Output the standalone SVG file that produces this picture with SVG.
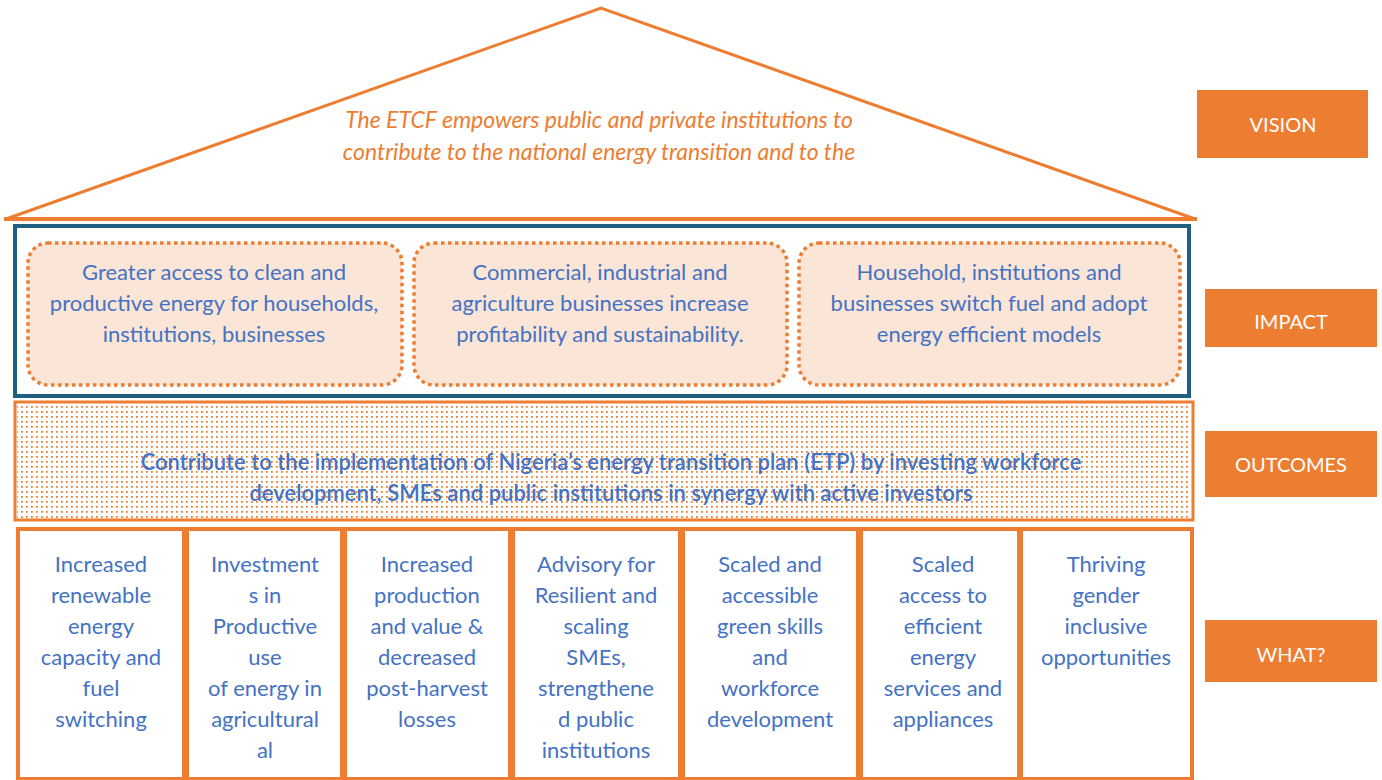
<svg xmlns="http://www.w3.org/2000/svg" width="1382" height="780" viewBox="0 0 1382 780">
<style>
.t{font-family:Lato,"Open Sans","Liberation Sans",sans-serif;font-size:22px;fill:#4472C4;text-anchor:middle}
.lbl{font-family:Lato,"Open Sans","Liberation Sans",sans-serif;font-size:20px;fill:#FFFFFF;text-anchor:middle}
.lb{fill:#ED7D31}
.imp{fill:#FBE5D6;stroke:#ED7D31;stroke-width:3.5;stroke-dasharray:3.5 3.5}
.what{fill:#FFFFFF;stroke:#ED7D31;stroke-width:4}
.vis{font-family:Lato,"Open Sans","Liberation Sans",sans-serif;font-size:23px;font-style:italic;fill:#ED7D31;text-anchor:middle}
</style>
<defs>
<pattern id="dots" x="0" y="0" width="5" height="5" patternUnits="userSpaceOnUse">
<rect x="1" y="1" width="1.8" height="1.8" fill="#ED7D31"/>
</pattern>
</defs>
<rect width="1382" height="780" fill="#FFFFFF"/>

<g id="roof">
<polyline points="6,219 601,8 1195,219" fill="none" stroke="#ED7D31" stroke-width="3" stroke-linejoin="miter"/>
<line x1="4" y1="219" x2="1197" y2="219" stroke="#ED7D31" stroke-width="4"/>
<text class="vis" x="599" y="128">The ETCF empowers public and private institutions to</text>
<text class="vis" x="599" y="160">contribute to the national energy transition and to the</text>
</g>

<g id="impact">
<rect x="15" y="226" width="1174" height="170" fill="#FFFFFF" stroke="#1F5F80" stroke-width="4"/>
<g id="impact1">
<rect class="imp" x="28" y="243" width="374" height="142" rx="20"/>
<text class="t" x="214" y="280">Greater access to clean and</text>
<text class="t" x="214" y="311">productive energy for households,</text>
<text class="t" x="214" y="342">institutions, businesses</text>
</g>
<g id="impact2">
<rect class="imp" x="414" y="243" width="373" height="142" rx="20"/>
<text class="t" x="600" y="280">Commercial, industrial and</text>
<text class="t" x="600" y="311">agriculture businesses increase</text>
<text class="t" x="600" y="342">profitability and sustainability.</text>
</g>
<g id="impact3">
<rect class="imp" x="799" y="243" width="381" height="142" rx="20"/>
<text class="t" x="989" y="280">Household, institutions and</text>
<text class="t" x="989" y="311">businesses switch fuel and adopt</text>
<text class="t" x="989" y="342">energy efficient models</text>
</g>
</g>

<g id="outcomes">
<rect x="15" y="402" width="1178" height="118" fill="#FFFFFF" stroke="#ED7D31" stroke-width="3"/>
<rect x="17" y="404" width="1174" height="114" fill="url(#dots)"/>
<text class="t" x="611" y="470" font-weight="600">Contribute to the implementation of Nigeria’s energy transition plan (ETP) by investing workforce</text>
<text class="t" x="611" y="501" font-weight="600">development, SMEs and public institutions in synergy with active investors</text>
</g>

<g id="what1">
<rect class="what" x="18" y="529" width="166" height="250"/>
<text class="t" x="101" y="572">Increased</text>
<text class="t" x="101" y="603">renewable</text>
<text class="t" x="101" y="634">energy</text>
<text class="t" x="101" y="665">capacity and</text>
<text class="t" x="101" y="696">fuel</text>
<text class="t" x="101" y="727">switching</text>
</g>
<g id="what2">
<rect class="what" x="187" y="529" width="155" height="250"/>
<text class="t" x="265" y="572">Investment</text>
<text class="t" x="265" y="603">s in</text>
<text class="t" x="265" y="634">Productive</text>
<text class="t" x="265" y="665">use</text>
<text class="t" x="265" y="696">of energy in</text>
<text class="t" x="265" y="727">agricultural</text>
<text class="t" x="265" y="758">al</text>
</g>
<g id="what3">
<rect class="what" x="345" y="529" width="165" height="250"/>
<text class="t" x="427" y="572">Increased</text>
<text class="t" x="427" y="603">production</text>
<text class="t" x="427" y="634">and value &amp;</text>
<text class="t" x="427" y="665">decreased</text>
<text class="t" x="427" y="696">post-harvest</text>
<text class="t" x="427" y="727">losses</text>
</g>
<g id="what4">
<rect class="what" x="513" y="529" width="167" height="250"/>
<text class="t" x="596" y="572">Advisory for</text>
<text class="t" x="596" y="603">Resilient and</text>
<text class="t" x="596" y="634">scaling</text>
<text class="t" x="596" y="665">SMEs,</text>
<text class="t" x="596" y="696">strengthene</text>
<text class="t" x="596" y="727">d public</text>
<text class="t" x="596" y="758">institutions</text>
</g>
<g id="what5">
<rect class="what" x="683" y="529" width="175" height="250"/>
<text class="t" x="770" y="572">Scaled and</text>
<text class="t" x="770" y="603">accessible</text>
<text class="t" x="770" y="634">green skills</text>
<text class="t" x="770" y="665">and</text>
<text class="t" x="770" y="696">workforce</text>
<text class="t" x="770" y="727">development</text>
</g>
<g id="what6">
<rect class="what" x="861" y="529" width="158" height="250"/>
<text class="t" x="943" y="572">Scaled</text>
<text class="t" x="943" y="603">access to</text>
<text class="t" x="943" y="634">efficient</text>
<text class="t" x="943" y="665">energy</text>
<text class="t" x="943" y="696">services and</text>
<text class="t" x="943" y="727">appliances</text>
</g>
<g id="what7">
<rect class="what" x="1021" y="529" width="171" height="250"/>
<text class="t" x="1106" y="572">Thriving</text>
<text class="t" x="1106" y="603">gender</text>
<text class="t" x="1106" y="634">inclusive</text>
<text class="t" x="1106" y="665">opportunities</text>
</g>

<g id="label-vision">
<rect class="lb" x="1197" y="90" width="171" height="68"/>
<text class="lbl" x="1283" y="132">VISION</text>
</g>
<g id="label-impact">
<rect class="lb" x="1205" y="289" width="172" height="58"/>
<text class="lbl" x="1291" y="329">IMPACT</text>
</g>
<g id="label-outcomes">
<rect class="lb" x="1205" y="431" width="172" height="66"/>
<text class="lbl" x="1291" y="472">OUTCOMES</text>
</g>
<g id="label-what">
<rect class="lb" x="1205" y="620" width="172" height="62"/>
<text class="lbl" x="1291" y="662">WHAT?</text>
</g>
<g id="connectors"></g>
</svg>
